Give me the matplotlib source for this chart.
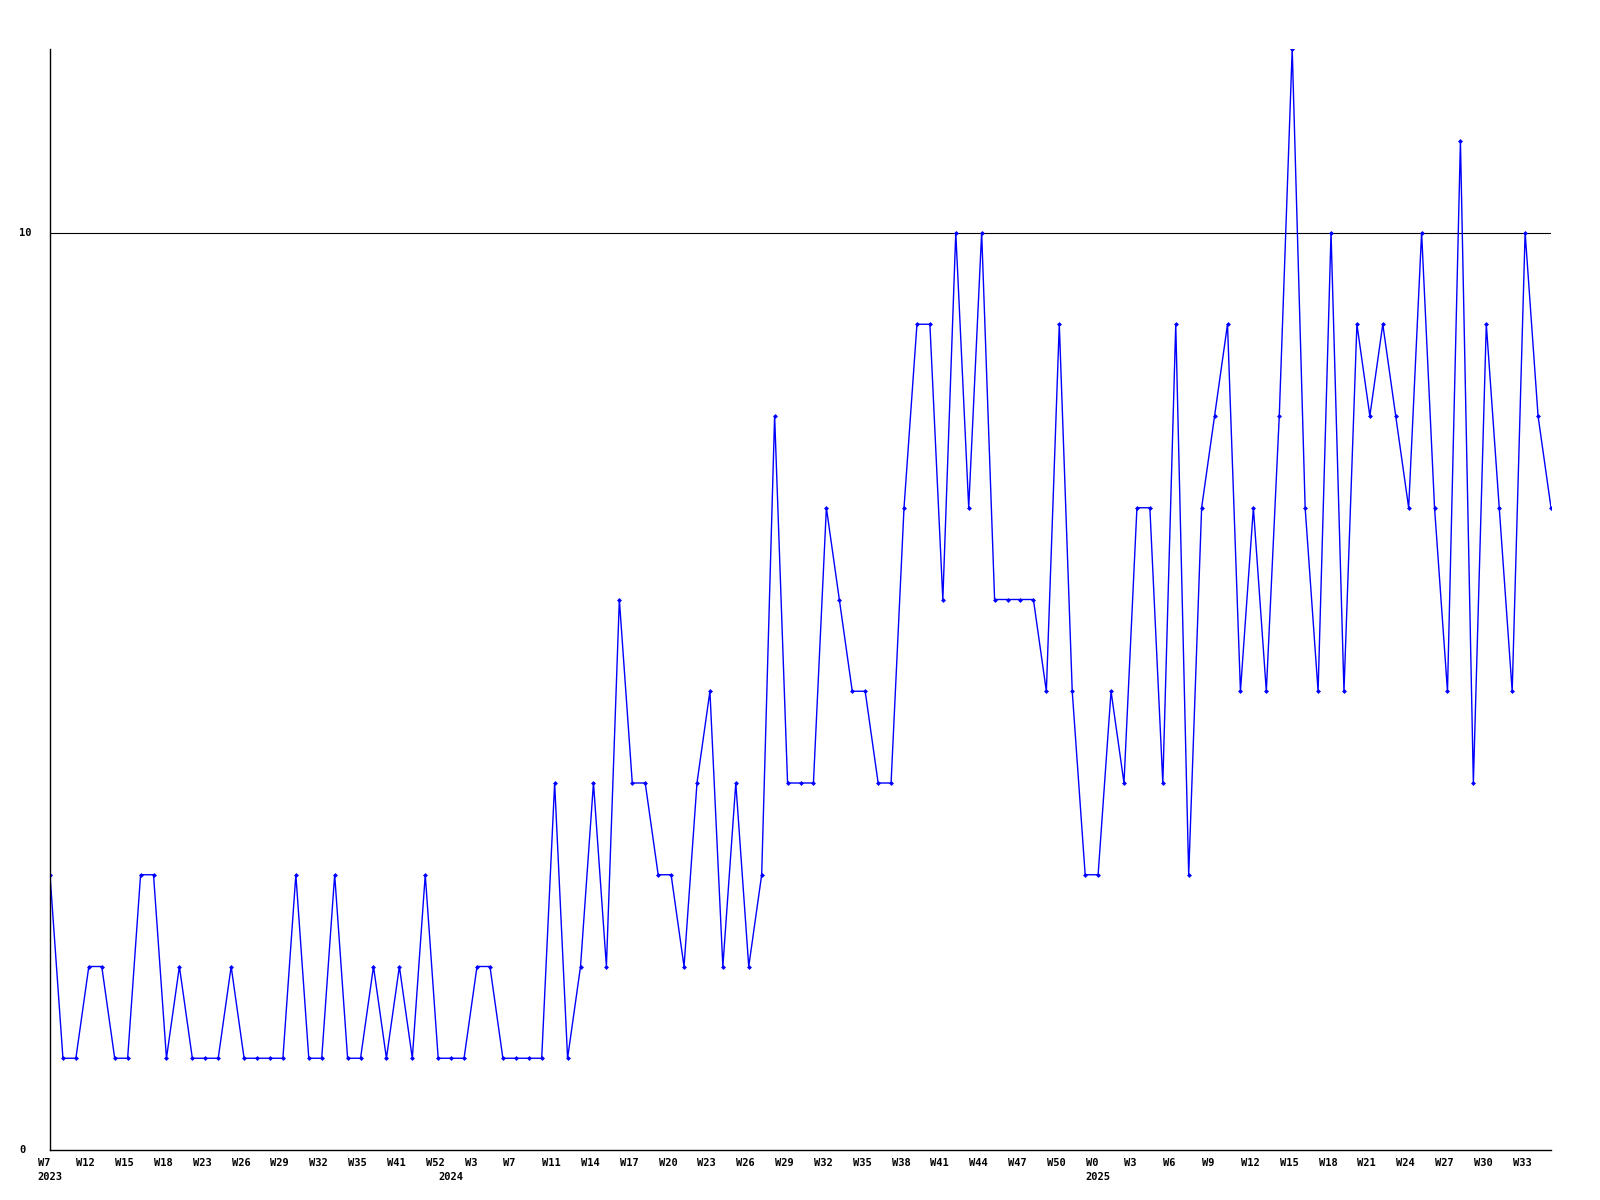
import matplotlib.pyplot as plt
import matplotlib.transforms as mtransforms
import numpy as np

# weekly counts, one per point (index on x axis)
values = [3, 1, 1, 2, 2, 1, 1, 3, 3, 1,
          2, 1, 1, 1, 2, 1, 1, 1, 1, 3,
          1, 1, 3, 1, 1, 2, 1, 2, 1, 3,
          1, 1, 1, 2, 2, 1, 1, 1, 1, 4,
          1, 2, 4, 2, 6, 4, 4, 3, 3, 2,
          4, 5, 2, 4, 2, 3, 8, 4, 4, 4,
          7, 6, 5, 5, 4, 4, 7, 9, 9, 6,
          10, 7, 10, 6, 6, 6, 6, 5, 9, 5,
          3, 3, 5, 4, 7, 7, 4, 9, 3, 7,
          8, 9, 5, 7, 5, 8, 12, 7, 5, 10,
          5, 9, 8, 9, 8, 7, 10, 7, 5, 11,
          4, 9, 7, 5, 10, 8, 7]

week_labels = ['W7', 'W12', 'W15', 'W18', 'W23', 'W26', 'W29', 'W32', 'W35', 'W41',
               'W52', 'W3', 'W7', 'W11', 'W14', 'W17', 'W20', 'W23', 'W26', 'W29',
               'W32', 'W35', 'W38', 'W41', 'W44', 'W47', 'W50', 'W0', 'W3', 'W6',
               'W9', 'W12', 'W15', 'W18', 'W21', 'W24', 'W27', 'W30', 'W33']
week_label_step = 3
years = ['2023', '2024', '2025']
year_index = [0, 31, 81]

x = np.arange(len(values))

fig = plt.figure(figsize=(16, 12), dpi=100)
ax = fig.add_axes([50 / 1600, 1 - 1150 / 1200, 1501 / 1600, 1101 / 1200])

ax.plot(x, values, color='#0000ff', lw=1, marker='D', ms=2.5, mew=0)
ax.axhline(10, color='black', lw=0.8, zorder=0)

ax.set_xlim(0, len(values) - 1)
ax.set_ylim(0, 12)
ax.set_xticks([])
ax.set_yticks([])
for s in ['top', 'right']:
    ax.spines[s].set_visible(False)
for s in ['left', 'bottom']:
    ax.spines[s].set_linewidth(1)

font = dict(family='DejaVu Sans Mono', weight='bold', fontsize=7.5)

# y labels
ytr = mtransforms.blended_transform_factory(fig.transFigure, ax.transData)
for v in [0, 10]:
    ax.text(19.5 / 1600, v, str(v), transform=ytr, ha='left', va='center', **font)

# x labels
xtr = mtransforms.blended_transform_factory(ax.transData, ax.transAxes)
wk = mtransforms.offset_copy(xtr, fig=fig, x=-9, y=-5.5, units='points')
for i, lab in enumerate(week_labels):
    ax.text(i * week_label_step, 0, lab, transform=wk, ha='left', va='top', **font)
yr = mtransforms.offset_copy(xtr, fig=fig, x=-9, y=-16, units='points')
for i, lab in zip(year_index, years):
    ax.text(i, 0, lab, transform=yr, ha='left', va='top', **font)

fig.savefig('out.png', dpi=100)
